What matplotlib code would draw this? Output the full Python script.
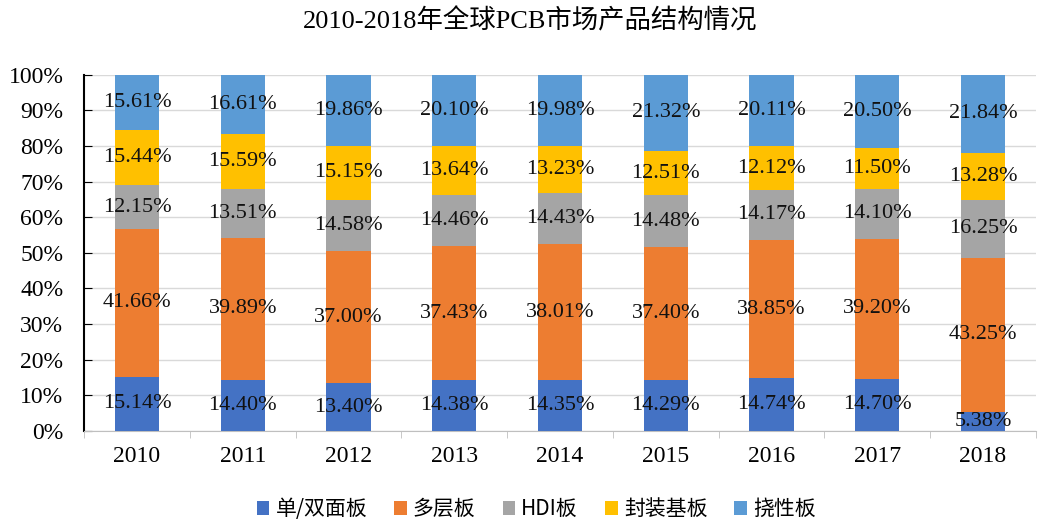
import matplotlib
matplotlib.use('Agg')
from matplotlib import pyplot as plt
from matplotlib.ticker import FixedLocator
import numpy as np

years = ['2010', '2011', '2012', '2013', '2014', '2015', '2016', '2017', '2018']
single_double = [15.14, 14.40, 13.40, 14.38, 14.35, 14.29, 14.74, 14.70, 5.38]
multilayer = [41.66, 39.89, 37.00, 37.43, 38.01, 37.40, 38.85, 39.20, 43.25]
hdi = [12.15, 13.51, 14.58, 14.46, 14.43, 14.48, 14.17, 14.10, 16.25]
substrate = [15.44, 15.59, 15.15, 13.64, 13.23, 12.51, 12.12, 11.50, 13.28]
flexible = [15.61, 16.61, 19.86, 20.10, 19.98, 21.32, 20.11, 20.50, 21.84]
series_names = ['单/双面板', '多层板', 'HDI板', '封装基板', '挠性板']
colors = ['#4472C4', '#ED7D31', '#A5A5A5', '#FFC000', '#5B9BD5']

SERIF = ['Liberation Serif', 'Noto Sans CJK SC']
SANS = ['Noto Sans CJK SC', 'DejaVu Sans']

fig = plt.figure(figsize=(10.39, 5.23), dpi=100)
ax = fig.add_axes([0.081, 0.176, 0.916, 0.681])

x = np.arange(len(years))
bottom = np.zeros(len(years))
for name, vals, col in zip(series_names, [single_double, multilayer, hdi, substrate, flexible], colors):
    vals = np.array(vals)
    ax.bar(x, vals, 0.42, bottom=bottom, color=col, label=name, zorder=3)
    for xi, b, v in zip(x, bottom, vals):
        ax.text(xi, b + v / 2, f'{v:.2f}%', ha='center', va='center',
                fontsize=16, family=SERIF, color='#111111', zorder=4)
    bottom += vals

ax.set_xlim(-0.5, len(years) - 0.5)
ax.set_ylim(0, 100)
ax.set_yticks(np.arange(0, 101, 10))
ax.set_yticklabels([f'{v}%' for v in range(0, 101, 10)], family=SERIF, fontsize=17)
ax.set_xticks(x)
ax.set_xticklabels(years, family=SERIF, fontsize=17)
ax.xaxis.set_minor_locator(FixedLocator(np.arange(-0.5, len(years), 1)))
ax.tick_params(axis='x', which='major', length=0, pad=11)
ax.tick_params(axis='x', which='minor', length=5, color='#BFBFBF', direction='out')
ax.tick_params(axis='y', direction='in', length=6, color='black', pad=15)
ax.grid(axis='y', color='#D9D9D9', linewidth=1, zorder=0)

ax.spines['top'].set_visible(False)
ax.spines['right'].set_visible(False)
ax.spines['left'].set_color('black')
ax.spines['left'].set_linewidth(1.5)
ax.spines['bottom'].set_color('#BFBFBF')

fig.text(0.51, 0.96, '2010-2018年全球PCB市场产品结构情况', ha='center', va='center',
         fontsize=19, family=SERIF)

leg = ax.legend(loc='center', bbox_to_anchor=(0.475, -0.22), ncol=5, frameon=False,
                prop={'family': SANS, 'size': 15}, handlelength=0.6, handleheight=0.6,
                columnspacing=1.3, handletextpad=0.3)

plt.savefig('out.png', dpi=100)
